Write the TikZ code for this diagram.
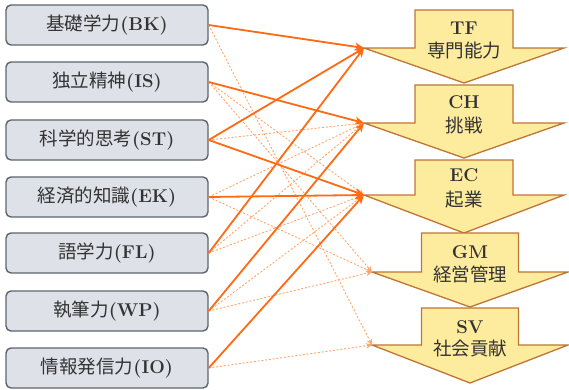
\documentclass[tikz,border=0pt]{standalone}
\usepackage{fontspec}
\newfontfamily\cjk{Noto Sans CJK JP}
\usetikzlibrary{arrows.meta}
\definecolor{boxfill}{HTML}{DEE1E7}
\definecolor{boxdraw}{HTML}{5E646E}
\definecolor{arrfill}{HTML}{FDEB9E}
\definecolor{arrdraw}{HTML}{BF7434}
\definecolor{link}{HTML}{FF6A13}
\definecolor{linklt}{HTML}{FFA56B}
\definecolor{txt}{HTML}{333333}
\newcommand{\bigarr}[7]{%
  \path[bigarrow] ({#2-#6},#3) -- ({#2+#6},#3) -- ({#2+#6},#4) -- ({#2+#7},#4)
    -- (#2,#5) -- ({#2-#7},#4) -- ({#2-#6},#4) -- cycle;
  \coordinate (#1) at ({#2-#7},#4);}
\begin{document}
\begin{tikzpicture}[x=1pt,y=-1pt,
  src/.style={draw=boxdraw, fill=boxfill, line width=1.4pt, rounded corners=5pt,
    minimum width=202pt, minimum height=40pt, inner sep=0pt, text=txt,
    font=\fontsize{18.5}{21}\selectfont},
  lab/.style={font=\fontsize{18.5}{21}\selectfont, inner sep=0pt, text=txt},
  strong/.style={draw=link, line width=1.8pt, -{Stealth[length=9pt,width=8pt,inset=2.5pt]}},
  weak/.style={draw=linklt, line width=0.9pt, dash pattern=on 2pt off 1.8pt,
    -{Stealth[length=6pt,width=5.5pt,inset=2pt]}},
  bigarrow/.style={draw=arrdraw, fill=arrfill, line width=1.3pt, line join=miter}]
\useasboundingbox (0,0) rectangle (569,390);

% left boxes
\node[src] (BK) at (107,25)  {{\cjk 基礎学力}\textbf{(BK)}};
\node[src] (IS) at (107,82)  {{\cjk 独立精神}\textbf{(IS)}};
\node[src] (ST) at (107,140) {{\cjk 科学的思考}\textbf{(ST)}};
\node[src] (EK) at (107,197) {{\cjk 経済的知識}\textbf{(EK)}};
\node[src] (FL) at (107,253) {{\cjk 語学力}\textbf{(FL)}};
\node[src] (WP) at (107,311) {{\cjk 執筆力}\textbf{(WP)}};
\node[src] (IO) at (107,368) {{\cjk 情報発信力}\textbf{(IO)}};

% right arrows
\bigarr{TF}{464}{10}{48}{83}{49}{100}
\bigarr{CH}{464}{85}{123}{158}{49}{100}
\bigarr{EC}{464}{160}{195}{233}{49}{100}
\bigarr{GM}{470}{233}{272}{307}{48.5}{98}
\bigarr{SV}{470}{308}{345}{383}{48.5}{98}

\node[lab] (TFa) at (464,28)  {\textbf{TF}};
\node[lab] (TFb) at (464,50)  {{\cjk 専門能力}};
\node[lab] (CHa) at (464,102) {\textbf{CH}};
\node[lab] (CHb) at (464,125) {{\cjk 挑戦}};
\node[lab] (ECa) at (464,175) {\textbf{EC}};
\node[lab] (ECb) at (464,200) {{\cjk 起業}};
\node[lab] (GMa) at (470,252) {\textbf{GM}};
\node[lab] (GMb) at (470,274) {{\cjk 経営管理}};
\node[lab] (SVa) at (470,327) {\textbf{SV}};
\node[lab] (SVb) at (470,348) {{\cjk 社会貢献}};

% weak links
\draw[weak] (BK.east) -- (SV);
\draw[weak] (IS.east) -- (EC);
\draw[weak] (IS.east) -- (GM);
\draw[weak] (ST.east) -- (CH);
\draw[weak] (EK.east) -- (CH);
\draw[weak] (EK.east) -- (GM);
\draw[weak] (FL.east) -- (CH);
\draw[weak] (FL.east) -- (EC);
\draw[weak] (WP.east) -- (EC);
\draw[weak] (WP.east) -- (GM);
\draw[weak] (IO.east) -- (SV);

% strong links
\draw[strong] (BK.east) -- (TF);
\draw[strong] (IS.east) -- (CH);
\draw[strong] (ST.east) -- (TF);
\draw[strong] (ST.east) -- (EC);
\draw[strong] (EK.east) -- (EC);
\draw[strong] (FL.east) -- (TF);
\draw[strong] (WP.east) -- (CH);
\draw[strong] (IO.east) -- (EC);
\end{tikzpicture}
\end{document}
